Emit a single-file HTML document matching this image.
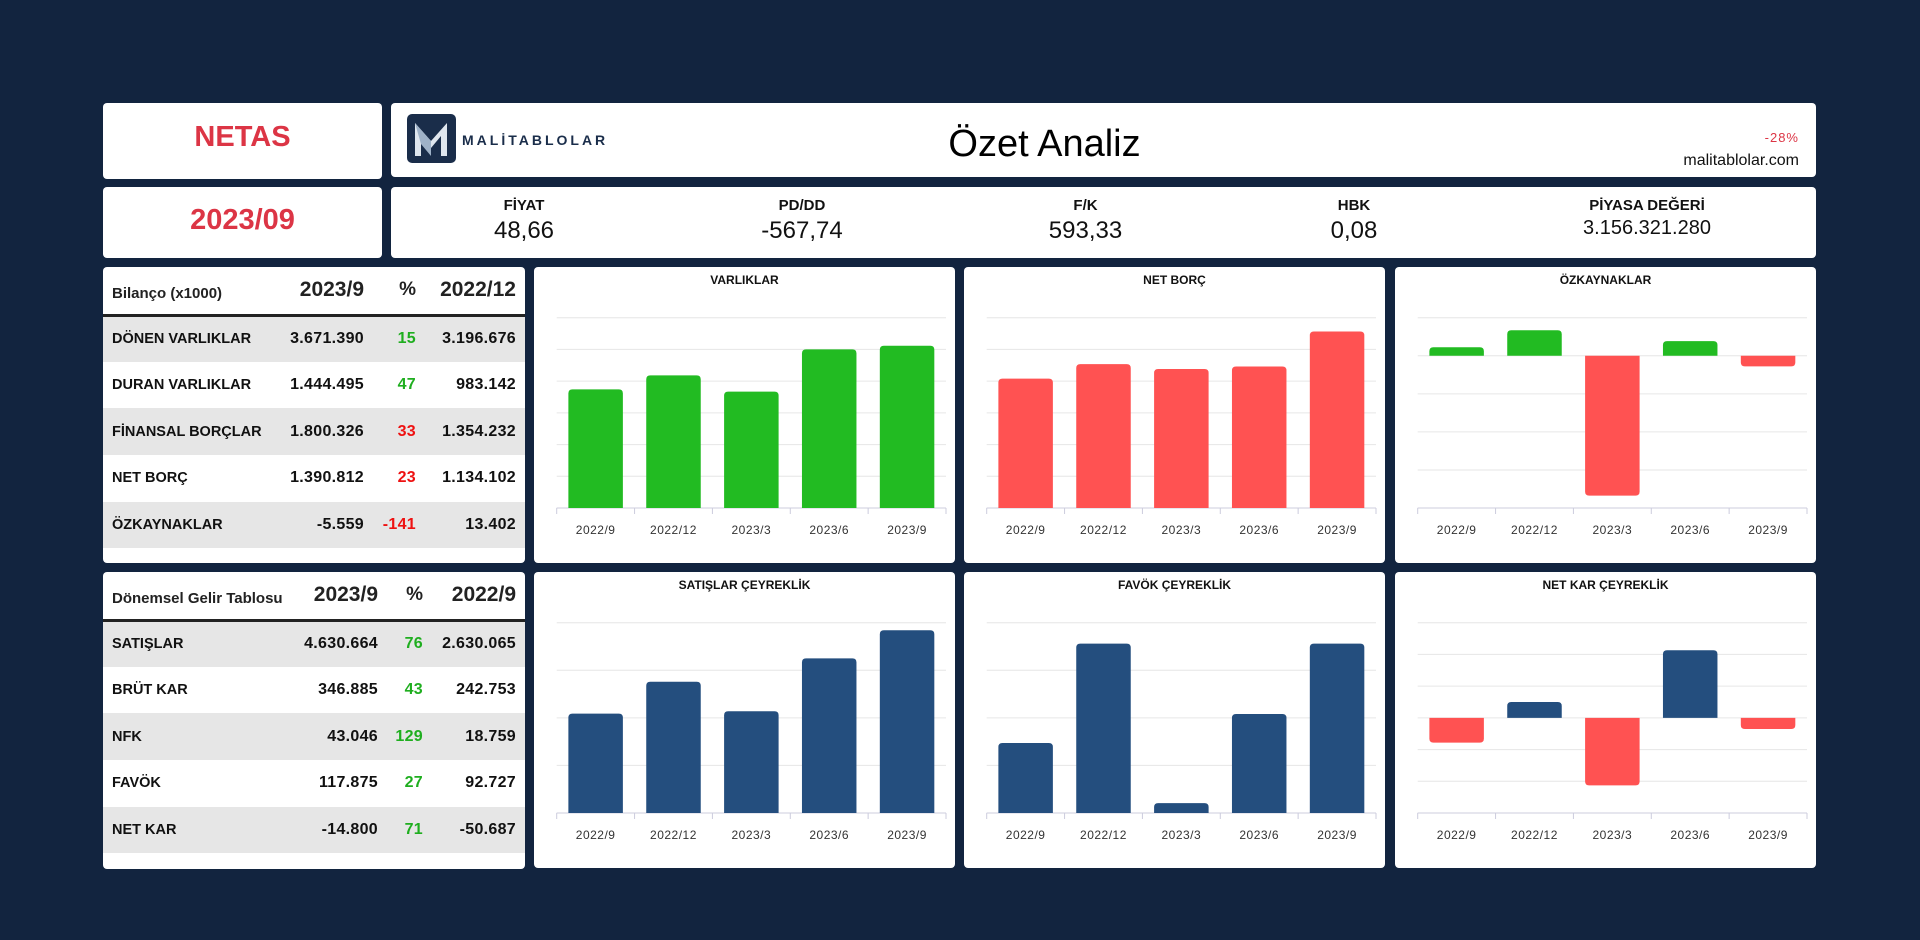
<!DOCTYPE html>
<html><head><meta charset="utf-8">
<style>
*{margin:0;padding:0;box-sizing:border-box}
body{width:1920px;height:940px;background:#12243f;font-family:"Liberation Sans",sans-serif;position:relative;overflow:hidden}
.card{position:absolute;background:#fff;border-radius:4px}
.ab{position:absolute}
table{border-collapse:collapse;position:absolute;left:0;top:0;width:100%;table-layout:fixed}
td{font-weight:bold;font-size:16px;color:#111;height:46.7px;white-space:nowrap;letter-spacing:.3px;overflow:visible}
td.lb{font-size:14.5px;letter-spacing:0;padding-left:9px}
tr.g td{background:#e6e6e6}
th{font-weight:bold;height:48px;color:#222;border-bottom:3px solid #222;white-space:nowrap;overflow:visible}
.up{color:#1fae1f}.dn{color:#ee1111}
</style></head><body>
<div class="card" style="left:103px;top:103px;width:279px;height:76px">
<div class="ab" style="left:0;width:100%;top:18px;text-align:center;font-size:29px;font-weight:bold;color:#dc3545">NETAS</div></div>
<div class="card" style="left:103px;top:187px;width:279px;height:71px">
<div class="ab" style="left:0;width:100%;top:17px;text-align:center;font-size:29px;font-weight:bold;color:#dc3545">2023/09</div></div>
<div class="card" style="left:391px;top:103px;width:1425px;height:74px">
<div class="ab" style="left:16px;top:11px;width:49px;height:49px;background:#1a2d4a;border-radius:5px">
<svg width="49" height="49"><path d="M8 42V9l16 18 16-18v33h-6V22l-10 12-10-12v20z" fill="#dfe6ee"/><path d="M8 9l16 18v15l-10-12z" fill="#9fb2c8"/></svg></div>
<div class="ab" style="left:71px;top:29px;font-size:14px;letter-spacing:3px;color:#1a2d4a;font-weight:bold">MALİTABLOLAR</div>
<div class="ab" style="left:0;width:100%;top:20px;text-align:center;font-size:38px;color:#000;padding-right:118px">Özet Analiz</div>
<div class="ab" style="right:17px;top:27px;font-size:13px;color:#dc3545;letter-spacing:1px">-28%</div>
<div class="ab" style="right:17px;top:49px;font-size:16px;color:#111">malitablolar.com</div></div>
<div class="card" style="left:391px;top:187px;width:1425px;height:71px" id="metrics"></div>

<div class="card" style="left:103px;top:267px;width:422px;height:296px">
<table><colgroup><col style="width:160px"><col style="width:101px"><col style="width:52px"><col style="width:109px"></colgroup>
<tr><th style="text-align:left;padding-left:9px;font-size:15px;padding-top:6px">Bilanço (x1000)</th><th style="text-align:right;font-size:21px">2023/9</th><th style="text-align:right;font-size:19px">%</th><th style="text-align:right;font-size:21px;padding-right:9px">2022/12</th></tr>
<tr class="g"><td class="lb">DÖNEN VARLIKLAR</td><td align="right">3.671.390</td><td align="right" class="up">15</td><td align="right" style="padding-right:9px">3.196.676</td></tr>
<tr><td class="lb">DURAN VARLIKLAR</td><td align="right">1.444.495</td><td align="right" class="up">47</td><td align="right" style="padding-right:9px">983.142</td></tr>
<tr class="g"><td class="lb">FİNANSAL BORÇLAR</td><td align="right">1.800.326</td><td align="right" class="dn">33</td><td align="right" style="padding-right:9px">1.354.232</td></tr>
<tr><td class="lb">NET BORÇ</td><td align="right">1.390.812</td><td align="right" class="dn">23</td><td align="right" style="padding-right:9px">1.134.102</td></tr>
<tr class="g"><td class="lb">ÖZKAYNAKLAR</td><td align="right">-5.559</td><td align="right" class="dn">-141</td><td align="right" style="padding-right:9px">13.402</td></tr></table></div>

<div class="card" style="left:103px;top:572px;width:422px;height:297px">
<table><colgroup><col style="width:170px"><col style="width:105px"><col style="width:45px"><col style="width:102px"></colgroup>
<tr><th style="text-align:left;padding-left:9px;font-size:15px;padding-top:6px">Dönemsel Gelir Tablosu</th><th style="text-align:right;font-size:21px">2023/9</th><th style="text-align:right;font-size:19px">%</th><th style="text-align:right;font-size:21px;padding-right:9px">2022/9</th></tr>
<tr class="g"><td class="lb">SATIŞLAR</td><td align="right">4.630.664</td><td align="right" class="up">76</td><td align="right" style="padding-right:9px">2.630.065</td></tr>
<tr><td class="lb">BRÜT KAR</td><td align="right">346.885</td><td align="right" class="up">43</td><td align="right" style="padding-right:9px">242.753</td></tr>
<tr class="g"><td class="lb">NFK</td><td align="right">43.046</td><td align="right" class="up">129</td><td align="right" style="padding-right:9px">18.759</td></tr>
<tr><td class="lb">FAVÖK</td><td align="right">117.875</td><td align="right" class="up">27</td><td align="right" style="padding-right:9px">92.727</td></tr>
<tr class="g"><td class="lb">NET KAR</td><td align="right">-14.800</td><td align="right" class="up">71</td><td align="right" style="padding-right:9px">-50.687</td></tr></table></div>

<script>
const metricLabels=["FİYAT","PD/DD","F/K","HBK","PİYASA DEĞERİ"];
const metricValues=["48,66","-567,74","593,33","0,08","3.156.321.280"];
const metricCenters=[133,411,694.5,963,1256];
const m=document.getElementById('metrics');
metricLabels.forEach((l,i)=>{
  const d=document.createElement('div');d.className='ab';
  
  
  d.style.cssText=`left:${metricCenters[i]-150}px;width:300px;top:10px;text-align:center`;
  d.innerHTML=`<div style="font-size:15px;font-weight:bold;color:#111">${l}</div><div style="font-size:${i==4?20:24}px;color:#111;margin-top:3px">${metricValues[i]}</div>`;
  m.appendChild(d);
});

const categories=["2022/9","2022/12","2023/3","2023/6","2023/9"];
const varliklar=[3.74,4.18,3.67,5.0,5.116];
const netBorc=[1.02,1.134,1.096,1.115,1.391];
const ozkaynak=[4.5,13.4,-73.5,7.7,-5.56];
const satislar=[1.045,1.38,1.07,1.625,1.92];
const favok=[36.8,89,5.2,52,89];
const netKar=[-7.8,5,-21.3,21.3,-3.5];

const GREEN="#22bb22",RED="#ff5252",NAVY="#244e7e";
const charts=[
 {name:"varliklar-chart",title:"VARLIKLAR",x:534,y:267,vals:varliklar,min:0,max:6,ticks:6,col:()=>GREEN},
 {name:"net-borc-chart",title:"NET BORÇ",x:964,y:267,vals:netBorc,min:0,max:1.5,ticks:6,col:()=>RED},
 {name:"ozkaynaklar-chart",title:"ÖZKAYNAKLAR",x:1395,y:267,vals:ozkaynak,min:-80,max:20,ticks:5,col:v=>v>=0?GREEN:RED},
 {name:"satislar-chart",title:"SATIŞLAR ÇEYREKLİK",x:534,y:572,vals:satislar,min:0,max:2,ticks:4,col:()=>NAVY},
 {name:"favok-chart",title:"FAVÖK ÇEYREKLİK",x:964,y:572,vals:favok,min:0,max:100,ticks:4,col:()=>NAVY},
 {name:"net-kar-chart",title:"NET KAR ÇEYREKLİK",x:1395,y:572,vals:netKar,min:-30,max:30,ticks:6,col:v=>v>=0?NAVY:RED}
];
const NS="http://www.w3.org/2000/svg";
charts.forEach(c=>{
  const W=421,H=296,L=22.7,R=412,T=50.7,B=241;
  const card=document.createElement('div');card.className='card';
  
  
  card.style.cssText=`left:${c.x}px;top:${c.y}px;width:${W}px;height:${H}px`;
  const s=document.createElementNS(NS,'svg');s.setAttribute('width',W);s.setAttribute('height',H);
  const y=v=>B-(v-c.min)/(c.max-c.min)*(B-T);
  const bw=(R-L)/categories.length;
  let h=`<text x="${W/2}" y="17" text-anchor="middle" font-size="12" font-weight="bold" fill="#111" font-family="Liberation Sans">${c.title}</text>`;
  for(let i=0;i<=c.ticks;i++){const gy=T+i*(B-T)/c.ticks;h+=`<line x1="${L}" x2="${R}" y1="${gy}" y2="${gy}" stroke="#e6e6e6" stroke-width="1"/>`;}
  h+=`<line x1="${L}" x2="${R}" y1="${B}" y2="${B}" stroke="#ccd" stroke-width="1"/>`;
  for(let i=0;i<=categories.length;i++){const tx=L+i*bw;h+=`<line x1="${tx}" x2="${tx}" y1="${B}" y2="${B+6}" stroke="#ccd"/>`;}
  s.innerHTML=h;
  c.vals.forEach((v,i)=>{
    const x0=L+i*bw+bw*0.15,w=bw*0.7,y0=y(0),y1=y(v),r=4;
    const p=document.createElementNS(NS,'path');
    let d;
    if(v>=0) d=`M${x0},${y0}V${y1+r}Q${x0},${y1} ${x0+r},${y1}H${x0+w-r}Q${x0+w},${y1} ${x0+w},${y1+r}V${y0}Z`;
    else d=`M${x0},${y0}V${y1-r}Q${x0},${y1} ${x0+r},${y1}H${x0+w-r}Q${x0+w},${y1} ${x0+w},${y1-r}V${y0}Z`;
    p.setAttribute('d',d);p.setAttribute('fill',c.col(v));
    
    
    s.appendChild(p);
    const t=document.createElementNS(NS,'text');
    t.setAttribute('x',L+i*bw+bw/2);t.setAttribute('y',B+26);
    t.setAttribute('text-anchor','middle');t.setAttribute('font-size','12');t.setAttribute('fill','#333');
    t.setAttribute('font-family','Liberation Sans');t.setAttribute('letter-spacing','0.5');
    
    
    t.textContent=categories[i];s.appendChild(t);
  });
  card.appendChild(s);document.body.appendChild(card);
});
</script>
</body></html>
